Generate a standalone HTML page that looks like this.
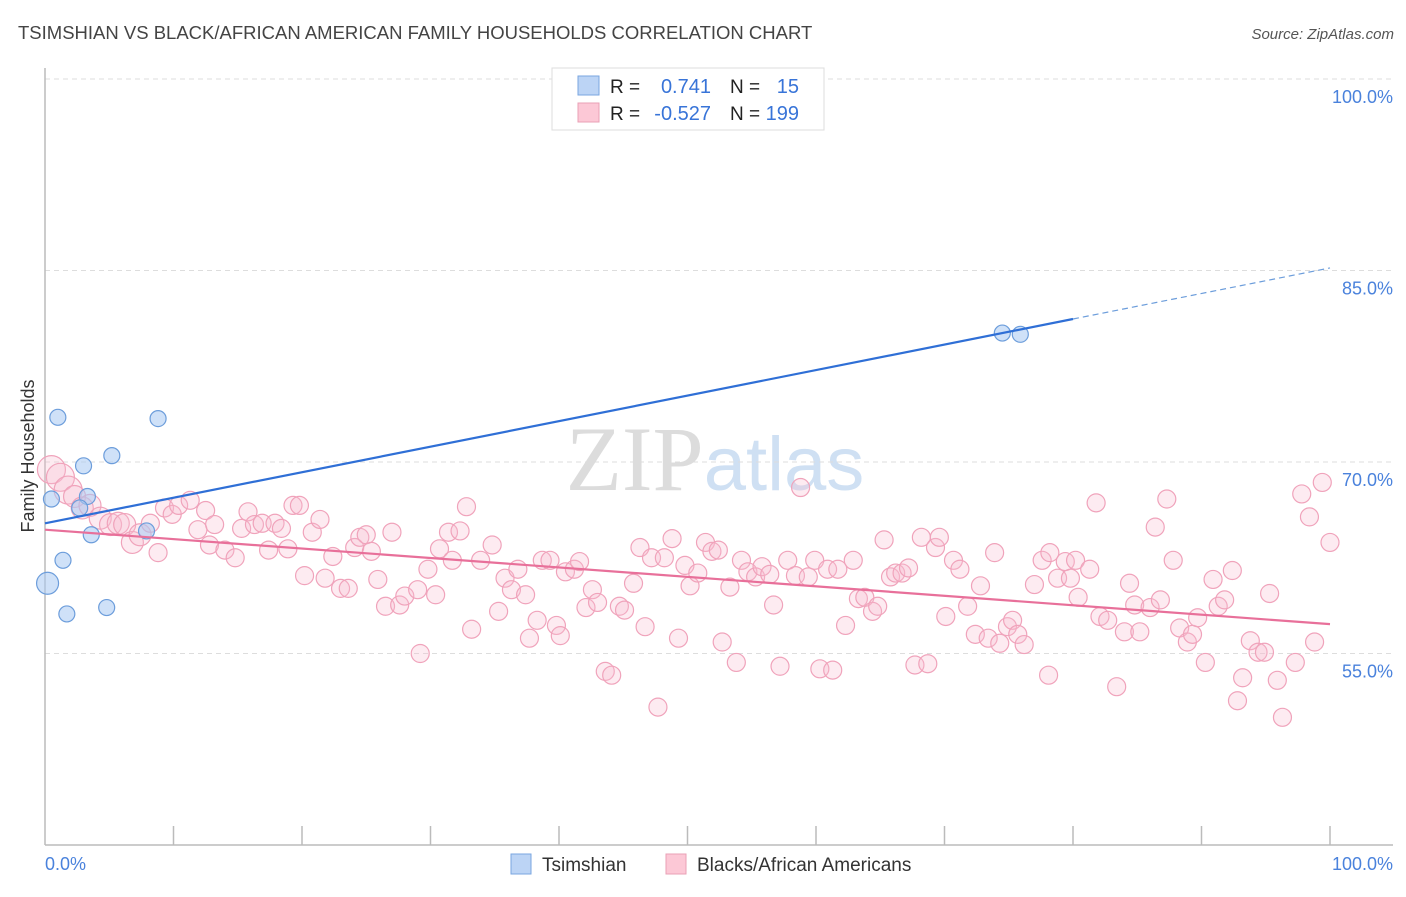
<!DOCTYPE html>
<html><head><meta charset="utf-8"><style>
body{margin:0;background:#fff;font-family:"Liberation Sans",sans-serif;}
svg text{font-family:"Liberation Sans",sans-serif;}
</style></head><body>
<svg id="chart" width="1406" height="892" xmlns="http://www.w3.org/2000/svg">
<text x="18" y="39" font-size="18.5" fill="#444">TSIMSHIAN VS BLACK/AFRICAN AMERICAN FAMILY HOUSEHOLDS CORRELATION CHART</text>
<text x="1394" y="39" font-size="15" fill="#555" text-anchor="end" font-style="italic">Source: ZipAtlas.com</text>
<text x="715" y="490" font-size="92" text-anchor="middle" fill="#e4e4e4"><tspan font-family="Liberation Serif" fill="#dcdcdc">ZIP</tspan><tspan fill="#cfe0f3" font-size="76">atlas</tspan></text>
<g id="grid"></g>
<g id="axes"></g>
<g id="pts-pink"></g>
<g id="pts-blue"></g>
<g id="trends"></g>
<text transform="translate(34,456) rotate(-90)" font-size="18" fill="#333" text-anchor="middle">Family Households</text>
<g>
<rect x="552" y="68" width="272" height="62" fill="#fff" stroke="#ddd"/>
<rect x="578" y="76" width="21" height="19" fill="#bcd4f5" stroke="#7aa6e0"/>
<rect x="578" y="103" width="21" height="19" fill="#fcc8d6" stroke="#eaa0b6"/>
<text x="610" y="93" font-size="19" fill="#222">R =</text><text x="711" y="93" font-size="20" fill="#3874d8" text-anchor="end">0.741</text>
<text x="730" y="93" font-size="19" fill="#222">N =</text><text x="799" y="93" font-size="20" fill="#3874d8" text-anchor="end">15</text>
<text x="610" y="120" font-size="19" fill="#222">R =</text><text x="711" y="120" font-size="20" fill="#3874d8" text-anchor="end">-0.527</text>
<text x="730" y="120" font-size="19" fill="#222">N =</text><text x="799" y="120" font-size="20" fill="#3874d8" text-anchor="end">199</text>
</g>
<g>
<rect x="511" y="854" width="20" height="20" fill="#bcd4f5" stroke="#7aa6e0"/>
<text x="542" y="871" font-size="19" fill="#333">Tsimshian</text>
<rect x="666" y="854" width="20" height="20" fill="#fcc8d6" stroke="#eaa0b6"/>
<text x="697" y="871" font-size="19" fill="#333">Blacks/African Americans</text>
</g>
</svg>
<script>
const yTicks=[55,70,85,100];
const yTickLabels=["55.0%","70.0%","85.0%","100.0%"];
const xEndLabels=["0.0%","100.0%"];
const blueX=[0.2,0.5,1.0,1.4,1.7,3.0,3.3,2.7,3.6,4.8,5.2,7.9,8.8,74.5,75.9];
const blueY=[60.5,67.1,73.5,62.3,58.1,69.7,67.3,66.4,64.3,58.6,70.5,64.6,73.4,80.1,80.0];
const pinkX=[0.5,1.2,1.8,2.3,2.9,3.5,4.3,5.1,5.7,6.2,6.8,7.4,8.2,8.8,9.3,9.9,10.4,11.3,11.9,12.5,12.8,13.2,14.0,14.8,15.3,15.8,16.3,16.9,17.4,17.9,18.4,18.9,19.3,19.8,20.2,20.8,21.4,21.8,22.4,23.0,23.6,24.1,24.5,25.0,25.4,25.9,26.5,27.0,27.6,28.0,29.0,29.2,29.8,30.4,30.7,31.4,31.7,32.3,32.8,33.2,33.9,34.8,35.3,35.8,36.3,36.8,37.4,37.7,38.3,38.7,39.3,39.8,40.1,40.5,41.2,41.6,42.1,42.6,43.0,43.6,44.1,44.7,45.1,45.8,46.3,46.7,47.2,47.7,48.2,48.8,49.3,49.8,50.2,50.8,51.4,51.9,52.4,52.7,53.3,53.8,54.2,54.7,55.3,55.8,56.4,56.7,57.2,57.8,58.4,58.8,59.4,59.9,60.3,60.9,61.3,61.7,62.3,62.9,63.3,63.8,64.4,64.8,65.3,65.8,66.2,66.7,67.2,67.7,68.2,68.7,69.3,69.6,70.1,70.7,71.2,71.8,72.4,72.8,73.4,73.9,74.3,74.9,75.3,75.7,76.2,77.0,77.6,78.1,78.2,78.8,79.4,79.8,80.2,80.4,81.3,81.8,82.1,82.7,83.4,84.0,84.4,84.8,85.2,86.0,86.4,86.8,87.3,87.8,88.3,88.9,89.3,89.7,90.3,90.9,91.3,91.8,92.4,92.8,93.2,93.8,94.4,94.9,95.3,95.9,96.3,97.3,97.8,98.4,98.8,99.4,100.0];
const pinkY=[69.4,68.8,67.8,67.3,66.4,66.6,65.6,65.1,65.2,65.1,63.7,64.3,65.2,62.9,66.4,65.9,66.6,67.0,64.7,66.2,63.5,65.1,63.1,62.5,64.8,66.1,65.1,65.2,63.1,65.2,64.8,63.2,66.6,66.6,61.1,64.5,65.5,60.9,62.6,60.1,60.1,63.3,64.1,64.3,63.0,60.8,58.7,64.5,58.8,59.5,60.0,55.0,61.6,59.6,63.2,64.5,62.3,64.6,66.5,56.9,62.3,63.5,58.3,60.9,60.0,61.6,59.6,56.2,57.6,62.3,62.3,57.2,56.4,61.4,61.6,62.2,58.6,60.0,59.0,53.6,53.3,58.7,58.4,60.5,63.3,57.1,62.5,50.8,62.5,64.0,56.2,61.9,60.3,61.3,63.7,63.0,63.1,55.9,60.2,54.3,62.3,61.4,61.0,61.8,61.2,58.8,54.0,62.3,61.1,68.0,61.0,62.3,53.8,61.6,53.7,61.6,57.2,62.3,59.3,59.4,58.3,58.7,63.9,61.0,61.3,61.3,61.7,54.1,64.1,54.2,63.3,64.1,57.9,62.3,61.6,58.7,56.5,60.3,56.2,62.9,55.8,57.1,57.6,56.5,55.7,60.4,62.3,53.3,62.9,60.9,62.2,60.9,62.3,59.4,61.6,66.8,57.9,57.6,52.4,56.7,60.5,58.8,56.7,58.6,64.9,59.2,67.1,62.3,57.0,55.9,56.5,57.8,54.3,60.8,58.7,59.2,61.5,51.3,53.1,56.0,55.1,55.1,59.7,52.9,50.0,54.3,67.5,65.7,55.9,68.4,63.7];
const blueTrend={x0:0,y0:65.2,x1:80,y1:81.2,xEnd:100};
const pinkTrend={x0:0,y0:64.7,x1:100,y1:57.3};

const NS="http://www.w3.org/2000/svg";
const X0=45,X1=1330,Y40=845,Y100=79;
function sx(v){return X0+(X1-X0)*v/100;}
function sy(v){return Y40-(Y40-Y100)*(v-40)/60;}
function mk(tag,attrs,parent){const e=document.createElementNS(NS,tag);for(const k in attrs)e.setAttribute(k,attrs[k]);parent.appendChild(e);return e;}
const grid=document.getElementById('grid'),axes=document.getElementById('axes');
yTicks.forEach((t,i)=>{
  const l=mk('line',{x1:X0,x2:1393,y1:sy(t),y2:sy(t),stroke:'#ddd','stroke-dasharray':'5,4'},grid);
  
  
  const tx=mk('text',{x:1393,y:sy(t)+24,'font-size':18,fill:'#4a82dc','text-anchor':'end'},axes);
  tx.textContent=yTickLabels[i];
  
  
});
const ya=mk('line',{x1:X0,x2:X0,y1:68,y2:Y40,stroke:'#bbb','stroke-width':1.5},axes);


const xa=mk('line',{x1:X0,x2:1393,y1:Y40,y2:Y40,stroke:'#bbb','stroke-width':1.5},axes);


for(let i=1;i<=10;i++){
  const t=mk('line',{x1:sx(i*10),x2:sx(i*10),y1:826,y2:Y40,stroke:'#bbb','stroke-width':1.5},axes);
  
  
}
[[0,'start',X0],[100,'end',1393]].forEach((d,i)=>{
  const t=mk('text',{x:d[2],y:870,'font-size':18,fill:'#4a82dc','text-anchor':d[1]},axes);
  t.textContent=xEndLabels[i];
  
  
});
const gp=document.getElementById('pts-pink');
pinkX.forEach((x,i)=>{
  const r=i<3?14:(i<12?11:9);
  const c=mk('circle',{cx:sx(x),cy:sy(pinkY[i]),r:r,fill:'rgba(250,190,210,0.3)',stroke:'#f0a3bb','stroke-width':1.2},gp);
  
  
});
const gb=document.getElementById('pts-blue');
blueX.forEach((x,i)=>{
  const r=i==0?11:8;
  const c=mk('circle',{cx:sx(x),cy:sy(blueY[i]),r:r,fill:'rgba(168,200,242,0.55)',stroke:'#6c9ddb','stroke-width':1.2},gb);
  
  
});
const tr=document.getElementById('trends');
const bs=(blueTrend.y1-blueTrend.y0)/(blueTrend.x1-blueTrend.x0);
const bl=mk('line',{x1:sx(blueTrend.x0),y1:sy(blueTrend.y0),x2:sx(blueTrend.x1),y2:sy(blueTrend.y1),stroke:'#2f6fd6','stroke-width':2.2},tr);


const bd=mk('line',{x1:sx(blueTrend.x1),y1:sy(blueTrend.y1),x2:sx(blueTrend.xEnd),y2:sy(blueTrend.y0+bs*blueTrend.xEnd),stroke:'#6c9ddb','stroke-width':1.2,'stroke-dasharray':'6,4'},tr);


const pl=mk('line',{x1:sx(pinkTrend.x0),y1:sy(pinkTrend.y0),x2:sx(pinkTrend.x1),y2:sy(pinkTrend.y1),stroke:'#e8709a','stroke-width':2.2},tr);


</script>
</body></html>
